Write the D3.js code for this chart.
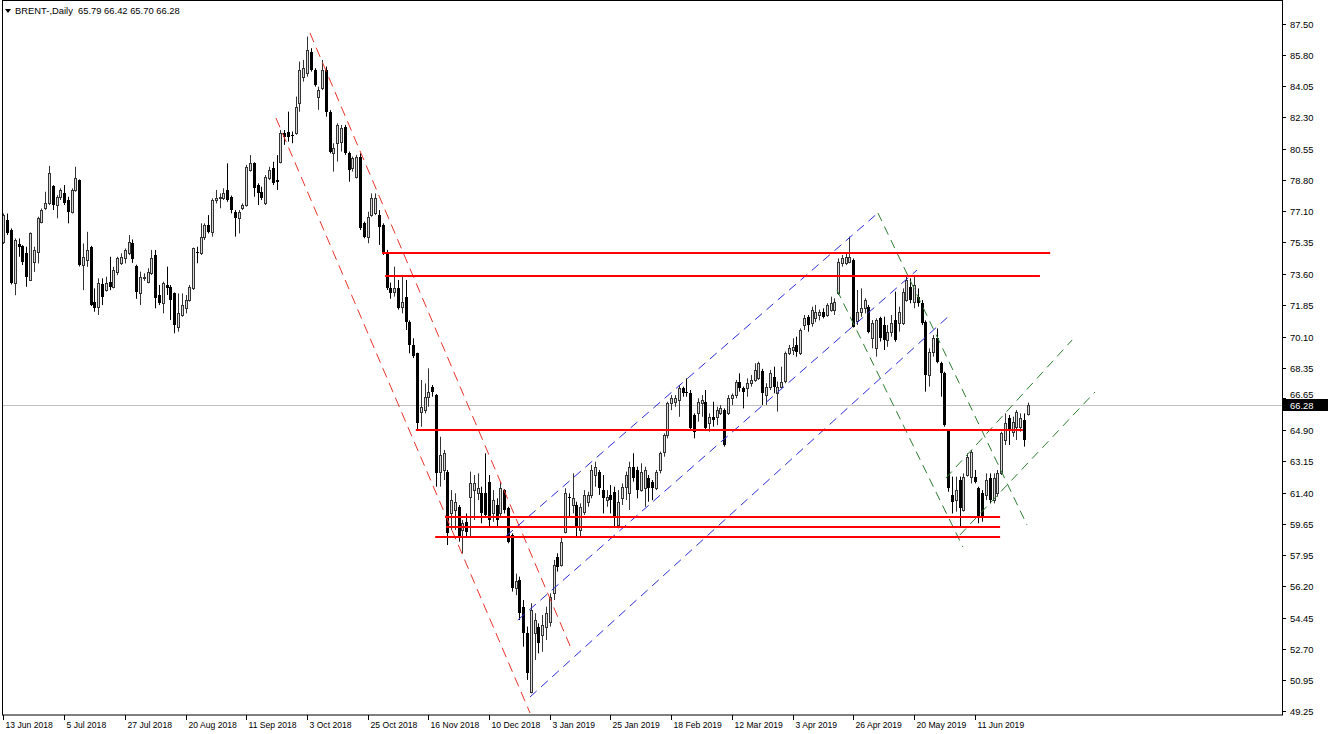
<!DOCTYPE html>
<html><head><meta charset="utf-8">
<script src="https://cdn.jsdelivr.net/npm/d3@7"></script>
<style>body{margin:0;background:#fff}svg{display:block}</style>
</head><body><svg id="c" width="1332" height="734"></svg>
<script>
const opens=[75.38,76.58,76.03,73.06,75.23,75.15,74.73,73.24,74.26,74.82,
76.49,77.23,77.51,78.48,77.42,77.88,78.07,77.7,77.05,78.25,
78.81,74.08,74.36,75.1,72.04,71.76,73.0,72.68,73.15,72.87,
73.71,74.17,74.45,74.73,75.3,74.0,72.5,73.34,73.15,73.62,
74.64,72.41,71.95,72.97,72.87,72.5,70.65,71.3,71.67,72.13,
72.78,74.83,74.74,75.66,76.31,75.94,77.7,77.79,77.79,78.26,
77.88,77.05,76.68,77.24,77.42,79.37,79.74,78.53,78.16,77.51,
78.92,79.46,78.81,79.83,81.42,81.5,81.33,81.42,83.08,84.57,
84.76,85.96,84.94,83.46,83.92,84.94,82.62,80.3,80.86,80.95,
81.79,80.3,79.47,79.0,80.12,76.4,75.66,76.86,77.0,76.86,
76.31,74.74,72.78,72.6,72.78,71.76,72.32,70.93,69.63,69.16,
65.91,66.01,66.75,67.31,66.84,62.58,62.67,62.58,60.25,60.44,
60.62,59.33,59.79,61.18,61.55,61.37,61.37,61.37,62.02,60.25,
60.72,60.25,61.55,60.53,59.05,56.1,56.55,55.06,53.58,50.33,
53.58,53.95,53.48,53.95,54.22,55.8,57.84,57.4,59.24,61.18,
60.72,60.72,59.33,60.35,60.9,61.28,62.39,62.58,61.55,61.0,
61.28,61.46,59.61,61.09,61.74,61.37,62.85,62.67,61.55,61.65,
62.2,62.02,61.65,62.67,63.69,64.61,66.38,66.47,66.56,67.21,
67.03,66.93,65.73,65.82,66.38,66.47,65.27,65.63,65.63,65.82,
66.0,65.82,66.66,66.84,67.58,67.21,67.21,67.49,67.68,67.77,
68.2,66.84,67.31,67.87,66.94,67.31,67.6,69.16,69.35,69.63,
69.16,70.74,71.2,70.83,71.11,71.3,71.48,71.3,71.58,71.58,
72.5,74.18,74.18,74.27,74.36,70.99,71.48,71.67,71.76,70.0,
69.44,71.11,70.74,69.91,70.37,71.02,70.83,70.83,72.13,72.87,
72.04,72.32,71.95,70.93,67.96,69.26,70.0,68.61,68.05,64.86,
61.28,60.99,62.11,60.44,62.39,62.3,62.3,61.65,61.37,61.28,
62.2,60.99,61.37,62.48,64.34,65.54,64.8,65.08,65.08,65.45,
65.79];
const highs=[76.95,76.95,76.12,75.56,75.56,75.19,75.1,75.9,75.1,76.77,
77.23,78.16,79.6,78.53,77.97,78.35,78.53,77.88,78.35,79.55,
78.85,75.28,75.93,75.15,72.78,73.34,73.34,73.43,74.54,73.98,
74.54,74.73,75.0,75.75,75.5,74.1,73.71,73.62,73.9,74.92,
74.92,72.97,73.15,73.99,72.97,72.55,72.5,72.5,72.41,72.97,
75.05,75.1,76.4,76.4,76.86,77.79,78.26,78.07,78.35,79.74,
77.95,77.14,77.14,77.51,79.65,80.2,79.8,78.63,78.44,79.09,
79.55,79.83,80.2,81.6,81.6,82.62,81.51,83.46,85.41,85.5,
86.8,86.15,85.04,84.01,85.5,85.13,82.7,80.86,81.97,81.88,
81.88,80.4,80.12,80.21,80.3,76.5,77.05,78.07,78.07,77.14,
76.4,74.92,73.1,73.99,73.25,73.53,73.25,71.0,70.0,69.2,
67.68,67.49,68.33,67.4,66.9,64.52,63.78,62.67,61.55,61.37,
60.72,59.88,60.25,62.58,62.39,62.48,61.74,63.6,62.39,61.55,
61.09,62.02,61.6,60.62,59.14,56.9,56.73,55.43,53.95,55.25,
54.69,54.13,54.6,55.06,55.8,57.66,58.03,58.96,61.65,61.37,
62.48,60.9,60.81,61.55,61.46,62.95,63.13,62.67,62.39,61.55,
61.83,61.74,61.55,61.92,62.58,63.13,63.6,62.85,63.04,62.85,
62.39,62.11,62.67,63.69,64.7,66.47,66.84,66.84,67.4,67.31,
67.77,67.12,65.82,66.66,66.84,67.12,65.82,66.47,66.19,66.28,
66.1,66.84,66.93,67.68,68.05,67.31,67.77,67.96,68.61,68.7,
68.3,67.5,68.24,68.42,67.59,68.42,69.26,69.63,70.0,70.09,
70.55,71.3,71.3,71.76,71.86,71.6,71.67,71.95,72.32,72.23,
74.45,74.64,74.73,75.66,74.45,72.69,72.78,72.23,71.86,71.02,
71.11,71.2,71.2,70.74,71.3,72.6,71.76,72.78,73.43,73.34,
73.53,72.78,72.13,71.0,69.44,70.18,70.55,68.7,68.14,64.95,
62.3,62.3,62.3,62.48,63.6,63.78,62.67,61.74,61.55,62.48,
62.48,62.48,62.67,64.8,65.82,65.73,65.64,66.01,65.82,65.82,
66.42];
const lows=[75.25,75.75,73.0,72.4,74.54,74.08,72.87,73.2,73.7,74.17,
76.4,77.14,77.42,77.14,76.68,77.7,77.42,76.4,76.95,78.16,
74.0,72.68,73.98,71.8,71.48,71.3,71.85,72.6,72.68,72.78,
73.52,74.08,74.17,74.63,74.2,72.2,71.85,73.2,73.06,73.53,
71.67,71.85,71.39,72.41,71.02,70.28,70.37,71.2,71.39,72.04,
72.69,74.18,74.64,75.47,75.84,75.66,77.51,77.24,77.7,77.6,
76.96,75.66,75.84,77.14,77.33,79.28,77.88,77.42,77.7,77.42,
78.81,78.53,78.26,79.74,80.77,80.95,80.86,81.33,82.62,84.29,
84.57,84.85,84.01,82.72,83.82,82.34,80.3,79.28,79.84,80.4,
80.21,78.72,79.28,78.9,76.03,75.57,75.29,76.77,76.86,75.2,
74.64,72.69,72.2,72.32,71.6,71.39,70.46,69.16,68.9,64.89,
65.08,65.82,66.19,66.75,61.74,61.74,62.11,58.49,59.33,59.33,
58.68,58.03,58.96,58.96,59.88,60.99,59.7,60.07,59.51,59.79,
59.51,60.07,60.25,58.59,55.9,55.7,54.32,52.83,50.98,50.23,
52.09,52.46,52.55,53.2,53.95,55.43,57.01,57.29,59.14,60.07,
60.25,58.96,58.96,60.16,60.62,61.09,61.74,61.28,60.25,60.62,
60.25,59.51,59.42,60.72,61.0,60.44,62.02,61.09,61.46,60.62,
60.9,60.99,61.55,62.48,63.41,64.43,66.0,66.19,65.63,66.75,
66.75,64.89,64.43,65.36,65.63,64.89,64.8,65.08,65.17,65.73,
63.97,65.73,66.28,66.66,67.03,66.1,66.75,67.31,67.58,67.68,
66.29,66.29,67.12,66.94,65.92,67.22,67.5,69.07,69.07,68.98,
69.07,70.46,70.37,70.65,70.9,71.0,71.11,71.2,71.48,71.3,
72.41,73.99,74.08,74.18,70.6,70.74,71.2,71.39,70.28,69.44,
68.98,69.82,69.35,69.53,70.09,69.81,70.37,70.74,72.04,71.95,
71.67,71.76,70.74,67.03,67.31,68.98,68.61,66.75,65.08,61.46,
60.25,60.35,59.51,60.35,62.3,61.92,61.92,59.7,59.79,60.99,
60.81,60.81,61.18,62.39,64.06,64.06,64.52,64.34,64.8,63.97,
65.70];
const closes=[76.86,75.84,73.06,75.47,75.1,74.26,73.43,75.84,74.91,76.68,
77.14,77.51,79.18,77.42,77.88,78.25,77.51,77.05,78.25,78.9,
74.08,74.54,74.91,71.85,71.67,73.06,72.3,73.06,72.87,73.8,
74.45,74.54,74.91,75.38,74.4,72.6,73.43,73.43,73.71,74.45,
72.23,71.95,73.06,72.78,72.13,70.74,71.39,71.85,72.13,72.87,
75.01,74.74,75.66,76.31,75.94,77.7,77.79,77.85,78.07,77.7,
77.14,76.68,77.05,77.42,79.55,79.74,78.35,78.07,77.79,79.0,
79.37,78.63,78.72,81.42,81.23,81.23,81.27,82.9,84.94,85.04,
86.06,84.94,84.1,83.82,84.94,82.62,80.4,80.58,81.88,81.69,
80.3,79.37,80.03,80.12,76.13,75.66,76.77,77.79,77.79,76.22,
74.74,72.78,72.5,72.78,71.67,72.04,70.93,69.63,69.0,65.27,
66.19,66.75,67.03,67.03,62.48,63.5,63.6,59.14,60.99,60.9,
58.96,59.7,59.23,61.92,61.92,61.64,60.25,60.16,59.88,60.99,
59.88,61.64,60.44,58.68,56.08,56.5,54.69,53.58,51.35,54.87,
54.32,53.02,54.04,54.69,55.62,57.38,57.29,58.68,61.37,61.09,
61.09,59.42,60.62,61.28,61.28,62.67,62.85,61.65,61.09,61.18,
61.0,60.07,60.9,61.74,62.39,62.85,62.2,61.55,62.58,62.67,
61.65,61.65,62.58,63.6,64.61,66.38,66.66,66.66,67.21,66.93,
66.93,64.98,64.8,66.47,66.56,64.98,65.63,65.45,66.0,66.1,
64.06,66.66,66.84,67.58,67.21,67.03,67.49,67.68,68.24,68.61,
66.94,67.31,68.05,67.31,67.31,67.59,69.16,69.44,69.54,69.26,
70.46,71.11,70.74,71.58,71.48,71.48,71.2,71.86,71.95,72.04,
74.27,74.45,74.55,74.55,70.65,71.48,71.67,72.13,70.37,70.83,
71.02,70.0,69.91,70.37,70.83,69.91,71.48,72.6,73.25,72.13,
72.97,71.95,70.83,67.96,69.26,70.0,68.7,68.05,65.17,61.65,
60.9,61.55,60.53,62.3,63.41,63.69,62.02,59.98,59.98,62.11,
60.99,62.2,62.48,64.71,65.27,64.89,65.36,65.92,65.54,64.34,
66.28];

const dateLabels=["13 Jun 2018","5 Jul 2018","27 Jul 2018","20 Aug 2018","11 Sep 2018","3 Oct 2018",
"25 Oct 2018","16 Nov 2018","10 Dec 2018","3 Jan 2019","25 Jan 2019","18 Feb 2019","12 Mar 2019",
"3 Apr 2019","26 Apr 2019","20 May 2019","11 Jun 2019"];
const barsPerLabel=16;
const priceTicks=["87.50","85.80","84.05","82.30","80.55","78.80","77.10","75.35","73.60","71.85",
"70.10","68.35","66.65","64.90","63.15","61.40","59.65","57.95","56.20","54.45","52.70","50.95","49.25"];
const lastPrice=66.28;
const titleText="BRENT-,Daily  65.79 66.42 65.70 66.28";

// trend lines: [bar1, price1, bar2, price2]
const redChannel=[[80.8,87.0,149.9,52.6],[71.85,82.26,138.8,49.14]];
const blueChannel=[[132.5,58.99,230.5,76.98],[135.6,54.32,240.8,73.8],[138.8,50.03,249.5,71.3]];
const greenDown=[[230.5,76.98,269.8,59.6],[219.7,72.69,252.9,58.38]];
const greenUp=[[248.4,62.22,281.7,69.91],[252.1,59.05,287.7,67.01]];
// horizontal levels: [price, startBar, endBar]
const levels=[[74.75,99.8,275.9],[73.47,100.6,273.2],[64.9,108.7,268.7],[60.05,116.4,262.7],[59.5,116.7,262.7],[58.94,113.8,262.7]];

const svg=d3.select("#c");
const L=2,R=1282,T=0.5,B=715;
const x=d3.scaleLinear().domain([0,270]).range([3.4,1027.8]);
const y=d3.scaleLinear().domain([49.25,87.5]).range([711,24]);

svg.append("defs").append("clipPath").attr("id","clip").append("rect")
 .attr("x",L).attr("y",T).attr("width",R-L).attr("height",B-T);
const plot=svg.append("g").attr("clip-path","url(#clip)");

// bid line
plot.append("line").attr("x1",L).attr("x2",R)
 .attr("y1",Math.round(y(lastPrice))+0.5).attr("y2",Math.round(y(lastPrice))+0.5)
 .attr("stroke","#c0c0c0").attr("stroke-width",1);

const data=opens.map((o,i)=>({i,o,h:highs[i],l:lows[i],c:closes[i]}));
const cg=plot.append("g");
data.forEach(d=>{
  const xc=Math.round(x(d.i));
  const bull=d.c>=d.o;
  cg.append("line").attr("x1",xc+0.5).attr("x2",xc+0.5)
    .attr("y1",y(d.h)).attr("y2",y(d.l)).attr("stroke",bull?"#333":"#000").attr("stroke-width",1);
  const top=y(Math.max(d.o,d.c)), bot=y(Math.min(d.o,d.c));
  if(bull){
    cg.append("rect").attr("x",xc-0.5).attr("y",Math.round(top)+0.5)
      .attr("width",2).attr("height",Math.max(1,Math.round(bot)-Math.round(top)))
      .attr("fill","#d8d8d8").attr("stroke","#333").attr("stroke-width",1);
  } else {
    cg.append("rect").attr("x",xc-1).attr("y",Math.round(top))
      .attr("width",3).attr("height",Math.max(1,Math.round(bot)-Math.round(top)))
      .attr("fill","#000");
  }
});

function drawLines(arr,color,dash){
  arr.forEach(s=>{
    plot.append("line").attr("x1",x(s[0])).attr("y1",y(s[1])).attr("x2",x(s[2])).attr("y2",y(s[3]))
     .attr("stroke",color).attr("stroke-width",1).attr("stroke-dasharray",dash);
  });
}
drawLines(redChannel,"#e8332a","10,6");
drawLines(blueChannel,"#2b2bd6","9,6");
drawLines(greenDown,"#2e7d32","9,6");
drawLines(greenUp,"#2e7d32","9,6");

levels.forEach(l=>{
  const yy=Math.round(y(l[0]));
  plot.append("line").attr("x1",x(l[1])).attr("x2",x(l[2])).attr("y1",yy).attr("y2",yy)
   .attr("stroke","#ff0000").attr("stroke-width",2);
});

// frame
svg.append("rect").attr("x",L+0.5).attr("y",T).attr("width",R-L).attr("height",B-T)
 .attr("fill","none").attr("stroke","#000").attr("stroke-width",1);

const axisFont="'Liberation Sans', Arial, sans-serif";
// x axis
const xa=svg.append("g");
dateLabels.forEach((lab,k)=>{
  const xx=Math.round(x(k*barsPerLabel))+0.5;
  xa.append("line").attr("x1",xx).attr("x2",xx).attr("y1",B).attr("y2",B+5).attr("stroke","#000");
  xa.append("text").attr("x",xx+2).attr("y",728).text(lab)
   .attr("font-family",axisFont).attr("font-size","8.6px").attr("fill","#000");
});

// y axis
const ly=Math.round(y(lastPrice));
const ya=svg.append("g");
priceTicks.forEach(t=>{
  const yy=Math.round(y(+t))+0.5;
  ya.append("line").attr("x1",R).attr("x2",R+4).attr("y1",yy).attr("y2",yy).attr("stroke","#000");
  let ty=yy+3.5;
  if(Math.abs(yy-ly)<13){ ty = yy<ly ? ly-7.5 : ly+15; }
  ya.append("text").attr("x",R+8).attr("y",ty).text(t)
   .attr("font-family",axisFont).attr("font-size","9.4px").attr("fill","#000");
});
// last price box
ya.append("rect").attr("x",R+1).attr("y",ly-6).attr("width",45).attr("height",12).attr("fill","#000");
ya.append("text").attr("x",R+8).attr("y",ly+3.5).text(lastPrice.toFixed(2))
 .attr("font-family",axisFont).attr("font-size","9.4px").attr("fill","#fff");

// title
svg.append("path").attr("d","M5,9 L11,9 L8,13 Z").attr("fill","#000");
svg.append("text").attr("x",15).attr("y",14).text(titleText)
 .attr("font-family",axisFont).attr("font-size","9.4px").attr("fill","#000")
 .attr("xml:space","preserve");
</script></body></html>
